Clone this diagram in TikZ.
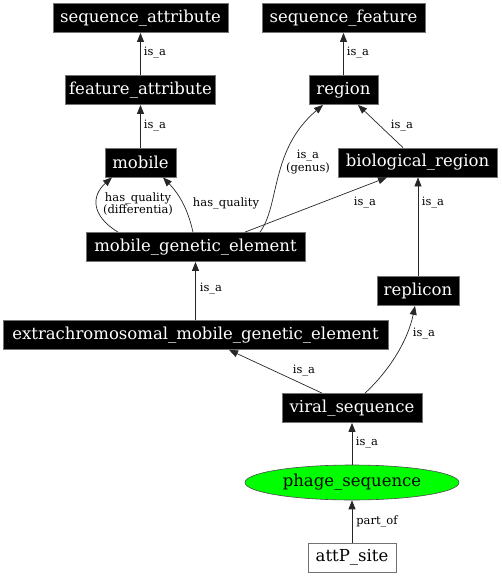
\documentclass[tikz,border=0pt]{standalone}
\usepackage{fontspec}
\setmainfont{DejaVu Serif}
\usetikzlibrary{arrows.meta,shapes.geometric}
\begin{document}
\begin{tikzpicture}[x=1pt,y=-1pt,
  nf/.style={font=\fontsize{16.5}{18}\selectfont},
  blk/.style={nf,draw=black!55,line width=0.8pt,fill=black,text=white,inner sep=0pt,
    minimum height=29pt},
  wbox/.style={nf,draw=black!55,line width=0.8pt,fill=white,text=black,inner sep=0pt,
    minimum height=29pt},
  ell/.style={nf,ellipse,draw=black!70,line width=0.6pt,fill=green,inner sep=0pt,
    minimum width=214pt,minimum height=35pt},
  edge/.style={draw=black!85,line width=0.7pt,-{Triangle[length=9pt,width=7pt]}},
  lab/.style={font=\fontsize{11.5}{11}\selectfont,inner sep=0pt,align=center}]
\useasboundingbox (0,0) rectangle (501,576);

\node[blk,minimum width=175pt] (sa) at (140.5,18) {sequence\_attribute};
\node[blk,minimum width=150pt] (fa) at (140.5,90) {feature\_attribute};
\node[blk,minimum width=71pt] (mob) at (140.5,162.5) {mobile};
\node[blk,minimum width=163pt] (sf) at (343.5,18) {sequence\_feature};
\node[blk,minimum width=69pt] (reg) at (343.5,90) {region};
\node[blk,minimum width=159pt] (br) at (417.5,162.5) {biological\_region};
\node[blk,minimum width=219pt] (mge) at (195.5,247) {mobile\_genetic\_element};
\node[blk,minimum width=82pt] (rep) at (418,291) {replicon};
\node[blk,minimum width=385pt] (emge) at (195.5,335) {extrachromosomal\_mobile\_genetic\_element};
\node[blk,minimum width=140pt] (vs) at (352,408) {viral\_sequence};
\node[ell] (ps) at (352,482.5) {phage\_sequence};
\node[wbox,minimum width=88pt] (att) at (352,557.5) {attP\_site};

\draw[edge] (fa) -- (sa);
\node[lab] at (155,53) {is\_a};
\draw[edge] (mob) -- (fa);
\node[lab] at (155,126) {is\_a};
\draw[edge] (reg) -- (sf);
\node[lab] at (358,53) {is\_a};
\draw[edge] ([xshift=-14.5pt]br.north) -- ([xshift=14.5pt]reg.south);
\node[lab] at (402,126) {is\_a};
\draw[edge] ([xshift=64.5pt]mge.north) .. controls (280,205) and (270,150) .. ([xshift=-20.5pt]reg.south);
\node[lab] at (308,162) {is\_a\\(genus)};
\draw[edge] ([xshift=49.5pt]mge.north) -- ([xshift=-30.5pt]br.south);
\node[lab] at (365,203) {is\_a};
\draw[edge] ([xshift=-77.5pt]mge.north) .. controls (90,215) and (92,195) .. ([xshift=-28.5pt]mob.south);
\node[lab] at (138,204) {has\_quality\\(differentia)};
\draw[edge] ([xshift=-2.5pt]mge.north) .. controls (188,210) and (180,195) .. ([xshift=22.5pt]mob.south);
\node[lab] at (226,203) {has\_quality};
\draw[edge] (emge.north -| mge.south) -- (mge.south);
\node[lab] at (211,289) {is\_a};
\draw[edge] (rep) -- (br.south -| rep.north);
\node[lab] at (433,203) {is\_a};
\draw[edge] ([xshift=-30pt]vs.north) -- ([xshift=33.5pt]emge.south);
\node[lab] at (304,371) {is\_a};
\draw[edge] ([xshift=13pt]vs.north) .. controls (390,370) and (408,340) .. ([xshift=-3pt]rep.south);
\node[lab] at (424,334) {is\_a};
\draw[edge] (ps) -- (vs);
\node[lab] at (367,443) {is\_a};
\draw[edge] (att) -- (ps);
\node[lab] at (377,521) {part\_of};
\end{tikzpicture}
\end{document}
